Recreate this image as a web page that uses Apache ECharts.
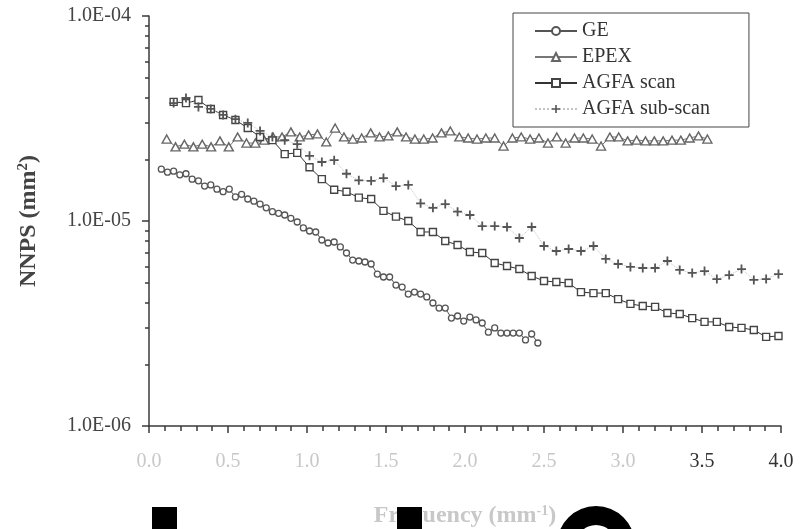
<!DOCTYPE html>
<html>
<head>
<meta charset="utf-8">
<script src="https://cdn.jsdelivr.net/npm/echarts@6/dist/echarts.min.js"></script>
<style>
html, body { margin: 0; padding: 0; background: #fff; }
#chart { width: 800px; height: 529px; }
</style>
</head>
<body>
<div id="chart"></div>
<script>
// frequency (mm^-1) and NNPS (mm^2)
var geFreq = [0.078,0.117,0.156,0.195,0.234,0.273,0.313,0.352,0.391,0.430,0.469,0.508,0.547,0.586,0.625,0.664,0.703,0.742,0.781,0.820,0.859,0.898,0.938,0.977,1.016,1.055,1.094,1.133,1.172,1.211,1.250,1.289,1.328,1.367,1.406,1.445,1.484,1.523,1.563,1.602,1.641,1.680,1.719,1.758,1.797,1.836,1.875,1.914,1.953,1.992,2.031,2.070,2.109,2.148,2.188,2.227,2.266,2.305,2.344,2.383,2.422,2.461];
var geNnps = [1.79e-5,1.73e-5,1.75e-5,1.68e-5,1.70e-5,1.60e-5,1.57e-5,1.48e-5,1.50e-5,1.43e-5,1.39e-5,1.43e-5,1.31e-5,1.35e-5,1.28e-5,1.25e-5,1.21e-5,1.16e-5,1.11e-5,1.09e-5,1.07e-5,1.03e-5,9.89e-6,9.25e-6,8.94e-6,8.84e-6,8.08e-6,7.81e-6,7.90e-6,7.47e-6,6.98e-6,6.45e-6,6.38e-6,6.31e-6,6.17e-6,5.51e-6,5.33e-6,5.33e-6,4.87e-6,4.76e-6,4.40e-6,4.50e-6,4.40e-6,4.26e-6,3.98e-6,3.76e-6,3.76e-6,3.36e-6,3.44e-6,3.25e-6,3.40e-6,3.29e-6,3.18e-6,2.87e-6,3.01e-6,2.84e-6,2.84e-6,2.84e-6,2.84e-6,2.63e-6,2.81e-6,2.54e-6];

var epexFreq = [0.112,0.168,0.224,0.281,0.337,0.393,0.449,0.505,0.561,0.617,0.673,0.729,0.785,0.842,0.898,0.954,1.010,1.066,1.122,1.178,1.234,1.290,1.346,1.403,1.459,1.515,1.571,1.627,1.683,1.739,1.795,1.851,1.907,1.964,2.020,2.076,2.132,2.188,2.244,2.300,2.356,2.412,2.468,2.525,2.581,2.637,2.693,2.749,2.805,2.861,2.917,2.973,3.029,3.086,3.142,3.198,3.254,3.310,3.366,3.422,3.478,3.534];
var epexNnps = [2.51e-5,2.30e-5,2.37e-5,2.30e-5,2.37e-5,2.30e-5,2.46e-5,2.30e-5,2.57e-5,2.40e-5,2.40e-5,2.48e-5,2.57e-5,2.57e-5,2.72e-5,2.57e-5,2.63e-5,2.66e-5,2.43e-5,2.84e-5,2.57e-5,2.51e-5,2.54e-5,2.69e-5,2.57e-5,2.60e-5,2.72e-5,2.57e-5,2.51e-5,2.51e-5,2.54e-5,2.69e-5,2.75e-5,2.57e-5,2.54e-5,2.51e-5,2.54e-5,2.54e-5,2.32e-5,2.54e-5,2.57e-5,2.51e-5,2.54e-5,2.40e-5,2.57e-5,2.40e-5,2.54e-5,2.54e-5,2.51e-5,2.32e-5,2.57e-5,2.57e-5,2.46e-5,2.48e-5,2.46e-5,2.46e-5,2.46e-5,2.48e-5,2.48e-5,2.54e-5,2.60e-5,2.51e-5];

var agfaFreq = [0.156,0.234,0.313,0.391,0.469,0.547,0.625,0.703,0.781,0.859,0.938,1.016,1.094,1.172,1.250,1.328,1.406,1.484,1.563,1.641,1.719,1.797,1.875,1.953,2.031,2.109,2.188,2.266,2.344,2.422,2.500,2.578,2.656,2.734,2.813,2.891,2.969,3.047,3.125,3.203,3.281,3.359,3.438,3.516,3.594,3.672,3.750,3.828,3.906,3.984];
var scanNnps = [3.81e-5,3.76e-5,3.89e-5,3.52e-5,3.29e-5,3.11e-5,2.84e-5,2.57e-5,2.48e-5,2.12e-5,2.15e-5,1.83e-5,1.60e-5,1.42e-5,1.39e-5,1.30e-5,1.28e-5,1.12e-5,1.05e-5,1.00e-5,8.84e-6,8.84e-6,7.99e-6,7.64e-6,7.06e-6,6.98e-6,6.24e-6,6.03e-6,5.83e-6,5.39e-6,5.10e-6,5.04e-6,4.98e-6,4.50e-6,4.45e-6,4.45e-6,4.16e-6,3.94e-6,3.85e-6,3.81e-6,3.56e-6,3.52e-6,3.36e-6,3.22e-6,3.22e-6,3.04e-6,3.01e-6,2.94e-6,2.72e-6,2.75e-6];
var subScanNnps = [3.76e-5,3.98e-5,3.60e-5,3.52e-5,3.29e-5,3.14e-5,3.01e-5,2.75e-5,2.57e-5,2.48e-5,2.37e-5,2.08e-5,1.94e-5,1.98e-5,1.70e-5,1.58e-5,1.57e-5,1.62e-5,1.48e-5,1.50e-5,1.22e-5,1.16e-5,1.21e-5,1.11e-5,1.07e-5,9.45e-6,9.45e-6,9.35e-6,8.26e-6,9.35e-6,7.55e-6,7.14e-6,7.30e-6,7.14e-6,7.55e-6,6.53e-6,6.17e-6,5.97e-6,5.90e-6,5.90e-6,6.38e-6,5.77e-6,5.58e-6,5.70e-6,5.21e-6,5.45e-6,5.83e-6,5.16e-6,5.21e-6,5.51e-6];

var minorTickValues = [2e-6,3e-6,4e-6,5e-6,6e-6,7e-6,8e-6,9e-6,2e-5,3e-5,4e-5,5e-5,6e-5,7e-5,8e-5,9e-5];

function pairs(xs, ys) {
    return xs.map(function (x, i) { return [x, ys[i]]; });
}

var serif = '"Liberation Serif", "DejaVu Serif", serif';
var axisColor = '#3a3a3a';
var plusPath = 'path://M4,0L6,0L6,4L10,4L10,6L6,6L6,10L4,10L4,6L0,6L0,4L4,4Z';

var chart = echarts.init(document.getElementById('chart'));
chart.setOption({
    backgroundColor: '#fff',
    animation: false,
    grid: { left: 149, right: 19, top: 16, bottom: 103, outerBoundsMode: 'none' },
    legend: {
        orient: 'vertical',
        left: 513,
        top: 13,
        padding: [8, 39, 8, 21],
        itemGap: 6,
        itemWidth: 42,
        itemHeight: 10,
        borderColor: '#444',
        borderWidth: 1,
        backgroundColor: '#fff',
        textStyle: { fontFamily: serif, fontSize: 20, color: '#333' },
        data: ['GE', 'EPEX', 'AGFA scan', 'AGFA sub-scan']
    },
    xAxis: {
        type: 'value',
        min: 0,
        max: 4,
        interval: 0.5,
        splitLine: { show: false },
        axisLine: { lineStyle: { color: axisColor, width: 1.5 } },
        axisTick: { length: 7, lineStyle: { color: axisColor, width: 1.5 } },
        minorTick: { show: true, splitNumber: 5, length: 5, lineStyle: { color: axisColor, width: 1.5 } },
        axisLabel: {
            margin: 26,
            fontFamily: serif,
            fontSize: 20,
            showMinLabel: true,
            showMaxLabel: true,
            formatter: function (v) { return v.toFixed(1); },
            color: function (v) { return Number(v) >= 3.5 ? '#333' : '#c8c8c8'; }
        },
        name: 'Frequency (mm{sup|-1})',
        nameLocation: 'middle',
        nameGap: 78,
        nameTextStyle: {
            fontFamily: serif, fontSize: 24, fontWeight: 'bold', color: '#c8c8c8',
            rich: { sup: { fontFamily: serif, fontSize: 14, fontWeight: 'bold', color: '#c8c8c8', verticalAlign: 'top', padding: [0, 0, 10, 0] } }
        }
    },
    yAxis: [{
        type: 'log',
        logBase: 10,
        min: 1e-6,
        max: 1e-4,
        splitLine: { show: false },
        axisLine: { show: true, lineStyle: { color: axisColor, width: 1.5 } },
        axisTick: { show: true, length: 7, lineStyle: { color: axisColor, width: 1.5 } },
        axisLabel: {
            margin: 18,
            fontFamily: serif,
            fontSize: 20,
            color: '#444',
            formatter: function (v) {
                var e = -Math.round(Math.log10(v));
                return '1.0E-' + (e < 10 ? '0' + e : e);
            }
        },
        name: 'NNPS (mm{sup|2})',
        nameLocation: 'middle',
        nameGap: 108,
        nameTextStyle: {
            fontFamily: serif, fontSize: 24, fontWeight: 'bold', color: '#444',
            rich: { sup: { fontFamily: serif, fontSize: 15, fontWeight: 'bold', color: '#444', verticalAlign: 'top', padding: [0, 0, 10, 0] } }
        }
    }, {
        type: 'log',
        logBase: 10,
        min: 1e-6,
        max: 1e-4,
        position: 'left',
        splitLine: { show: false },
        axisLine: { show: false },
        axisLabel: { show: false },
        axisTick: { show: true, length: 4, customValues: minorTickValues, lineStyle: { color: axisColor, width: 1.5 } }
    }],
    series: [{
        name: 'GE',
        type: 'line',
        data: pairs(geFreq, geNnps),
        symbol: 'circle',
        symbolSize: 6,
        lineStyle: { color: '#555', width: 1 },
        itemStyle: { color: '#fff', borderColor: '#555', borderWidth: 1.3 }
    }, {
        name: 'EPEX',
        type: 'line',
        data: pairs(epexFreq, epexNnps),
        symbol: 'triangle',
        symbolSize: [9, 8],
        lineStyle: { color: '#777', width: 1 },
        itemStyle: { color: '#fff', borderColor: '#666', borderWidth: 1.4 }
    }, {
        name: 'AGFA scan',
        type: 'line',
        data: pairs(agfaFreq, scanNnps),
        symbol: 'rect',
        symbolSize: 7,
        lineStyle: { color: '#333', width: 1 },
        itemStyle: { color: '#fff', borderColor: '#444', borderWidth: 1.4 }
    }, {
        name: 'AGFA sub-scan',
        type: 'line',
        data: pairs(agfaFreq, subScanNnps),
        symbol: plusPath,
        symbolSize: 9,
        lineStyle: { color: '#c4c4c4', width: 1, type: 'dotted' },
        itemStyle: { color: '#555', borderWidth: 0 }
    }],
    graphic: [
        { type: 'rect', z: 100, shape: { x: 152, y: 507, width: 25, height: 22 }, style: { fill: '#000' } },
        { type: 'rect', z: 100, shape: { x: 397, y: 507, width: 25, height: 22 }, style: { fill: '#000' } },
        { type: 'ring', z: 100, shape: { cx: 596, cy: 545, r: 39, r0: 20 }, style: { fill: '#000' } }
    ]
});
</script>
</body>
</html>
